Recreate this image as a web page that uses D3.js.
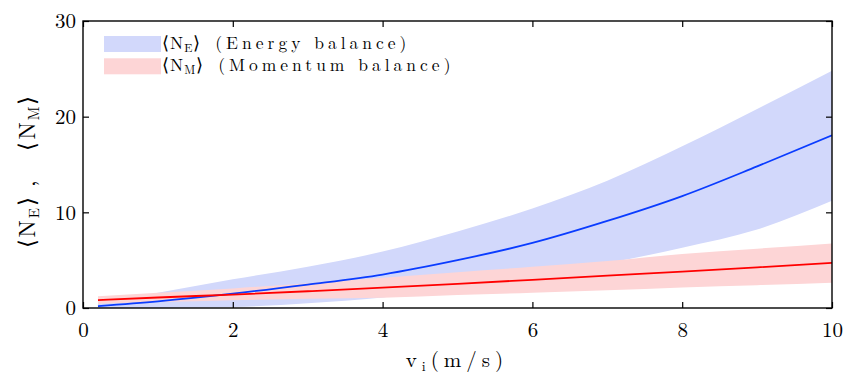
<!DOCTYPE html>
<html>
<head>
<meta charset="utf-8">
<script src="https://cdn.jsdelivr.net/npm/d3@7"></script>
<style>
  body { margin: 0; background: #fff; }
</style>
</head>
<body>
<div id="chart"></div>
<script>
// impact velocity v_i (m/s)
const velocity = [0.2, 1, 2, 3, 4, 5, 6, 7, 8, 9, 10];

// <N_E> energy balance: mean and band
const energyMean = [0.2, 0.7, 1.5, 2.45, 3.5, 5.0, 6.8, 9.1, 11.7, 14.8, 18.05];
const energyLow = [0, 0, 0.1, 0.5, 1.1, 2.2, 3.6, 4.7, 6.3, 8.2, 11.2];
const energyHigh = [0.5, 1.6, 3.0, 4.3, 5.9, 8.0, 10.4, 13.3, 16.9, 20.8, 24.8];

// <N_M> momentum balance: mean and band
const momentumMean = [0.82, 1.1, 1.4, 1.75, 2.12, 2.52, 2.95, 3.38, 3.8, 4.25, 4.72];
const momentumLow = [0.45, 0.62, 0.82, 0.98, 1.08, 1.35, 1.6, 1.85, 2.15, 2.38, 2.63];
const momentumHigh = [1.22, 1.6, 2.05, 2.6, 3.15, 3.75, 4.3, 4.9, 5.65, 6.2, 6.75];

const xTicks = [0, 2, 4, 6, 8, 10];
const yTicks = [0, 10, 20, 30];

const config = {
  width: 849,
  height: 375,
  margin: {top: 21, left: 83, right: 17, bottom: 67},
  font: '"Latin Modern Roman", "Liberation Serif", serif',
  colors: {
    energyBand: '#d2d8fb',
    energyLine: '#0a3cff',
    momentumBand: '#fdd5d6',
    momentumLine: '#ff0000'
  }
};

const W = config.width, H = config.height, m = config.margin;

const svg = d3.select('#chart')
  .append('svg')
  .attr('width', W)
  .attr('height', H)
  .attr('viewBox', [0, 0, W, H]);

const xScale = d3.scaleLinear([0, 10], [m.left, W - m.right]);
const yScale = d3.scaleLinear([0, 30], [H - m.bottom, m.top]);

svg.append('clipPath').attr('id', 'plot-clip')
  .append('rect')
  .attr('x', m.left).attr('y', m.top)
  .attr('width', W - m.left - m.right)
  .attr('height', H - m.top - m.bottom);

const plot = svg.append('g').attr('clip-path', 'url(#plot-clip)');
const I = d3.range(velocity.length);

const band = (lo, hi) => d3.area()
  .x(i => xScale(velocity[i]))
  .y0(i => yScale(lo[i]))
  .y1(i => yScale(hi[i]))
  .curve(d3.curveMonotoneX);

const line = ys => d3.line()
  .x(i => xScale(velocity[i]))
  .y(i => yScale(ys[i]))
  .curve(d3.curveMonotoneX);

plot.append('path')
  .attr('d', band(energyLow, energyHigh)(I))
  .attr('fill', config.colors.energyBand);

plot.append('path')
  .attr('d', band(momentumLow, momentumHigh)(I))
  .attr('fill', config.colors.momentumBand);

plot.append('path')
  .attr('d', line(energyMean)(I))
  .attr('fill', 'none')
  .attr('stroke', config.colors.energyLine)
  .attr('stroke-width', 1.8);

plot.append('path')
  .attr('d', line(momentumMean)(I))
  .attr('fill', 'none')
  .attr('stroke', config.colors.momentumLine)
  .attr('stroke-width', 1.8);

// axes, ticks inside on all four sides
const tickLen = 6;
const styleAxis = g => {
  g.select('.domain').remove();
  g.selectAll('.tick line').attr('stroke', '#000').attr('stroke-width', 1.2);
  g.selectAll('.tick text')
    .style('font-family', config.font)
    .style('font-size', '21px')
    .attr('fill', '#000');
};

svg.append('g')
  .attr('transform', `translate(0,${H - m.bottom})`)
  .call(d3.axisBottom(xScale).tickValues(xTicks).tickSize(-tickLen).tickPadding(14))
  .call(styleAxis);

svg.append('g')
  .attr('transform', `translate(0,${m.top})`)
  .call(d3.axisTop(xScale).tickValues(xTicks).tickSize(-tickLen).tickFormat(''))
  .call(styleAxis);

svg.append('g')
  .attr('transform', `translate(${m.left},0)`)
  .call(d3.axisLeft(yScale).tickValues(yTicks).tickSize(-tickLen).tickPadding(7))
  .call(styleAxis);

svg.append('g')
  .attr('transform', `translate(${W - m.right},0)`)
  .call(d3.axisRight(yScale).tickValues(yTicks).tickSize(-tickLen).tickFormat(''))
  .call(styleAxis);

svg.append('rect')
  .attr('x', m.left).attr('y', m.top)
  .attr('width', W - m.left - m.right)
  .attr('height', H - m.top - m.bottom)
  .attr('fill', 'none')
  .attr('stroke', '#000')
  .attr('stroke-width', 1.4);

// legend
const legendItems = [
  {sub: 'E', label: '(Energy balance)', color: config.colors.energyBand},
  {sub: 'M', label: '(Momentum balance)', color: config.colors.momentumBand}
];

const legend = svg.append('g');
legendItems.forEach((d, k) => {
  const y = 36 + k * 22.3;
  legend.append('rect')
    .attr('x', 104).attr('y', y)
    .attr('width', 57).attr('height', 16)
    .attr('fill', d.color);
  const t = legend.append('text')
    .attr('x', 162).attr('y', y + 12.5)
    .style('font-family', config.font)
    .style('font-size', '17.5px')
    .attr('letter-spacing', 1);
  t.append('tspan').text('⟨N');
  t.append('tspan').style('font-size', '12px').attr('dy', 3).text(d.sub);
  t.append('tspan').attr('dy', -3).text('⟩');
  t.append('tspan').attr('dx', 14).attr('letter-spacing', 4).text(d.label);
});

// axis titles
const xt = svg.append('text')
  .attr('x', 457).attr('y', 367)
  .attr('text-anchor', 'middle')
  .style('font-family', config.font)
  .style('font-size', '21px')
  .attr('letter-spacing', 5);
xt.append('tspan').text('v');
xt.append('tspan').style('font-size', '14px').attr('dy', 4).text('i');
xt.append('tspan').attr('dy', -4).text('(m/s)');

const yt = svg.append('text')
  .attr('transform', 'translate(35,171) rotate(-90)')
  .attr('text-anchor', 'middle')
  .style('font-family', config.font)
  .style('font-size', '23px')
  .attr('letter-spacing', 2);
yt.append('tspan').text('⟨N');
yt.append('tspan').style('font-size', '15px').attr('dy', 4).text('E');
yt.append('tspan').attr('dy', -4).text('⟩');
yt.append('tspan').attr('dx', 8).text(',');
yt.append('tspan').attr('dx', 28).text('⟨N');
yt.append('tspan').style('font-size', '15px').attr('dy', 4).text('M');
yt.append('tspan').attr('dy', -4).text('⟩');
</script>
</body>
</html>
